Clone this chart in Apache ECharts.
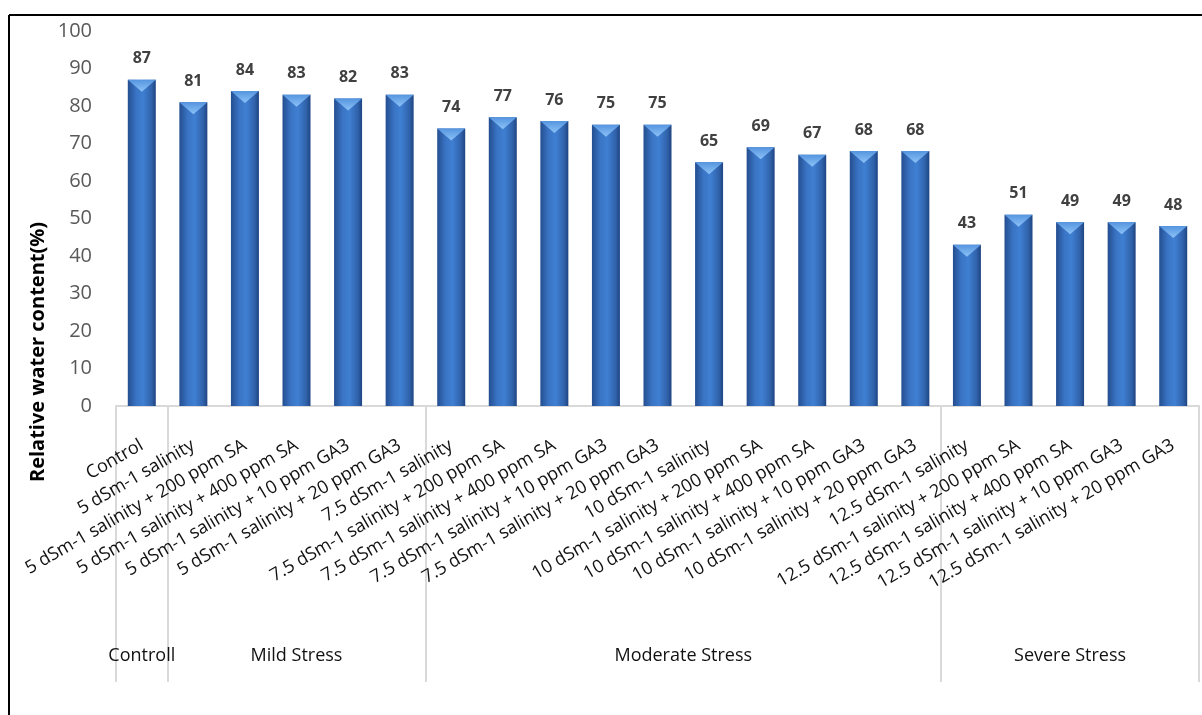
<!DOCTYPE html>
<html>
<head>
<meta charset="utf-8">
<script src="https://cdn.jsdelivr.net/npm/echarts@6/dist/echarts.min.js"></script>
<style>
html,body{margin:0;padding:0;background:#fff;}
#chart{width:1202px;height:715px;}
</style>
</head>
<body>
<div id="chart"></div>
<script>
// ---- data ----
var categories = [
  "Control",
  "5 dSm-1 salinity",
  "5 dSm-1 salinity + 200 ppm SA",
  "5 dSm-1 salinity + 400 ppm SA",
  "5 dSm-1 salinity + 10 ppm GA3",
  "5 dSm-1 salinity + 20 ppm GA3",
  "7.5 dSm-1 salinity",
  "7.5 dSm-1 salinity + 200 ppm SA",
  "7.5 dSm-1 salinity + 400 ppm SA",
  "7.5 dSm-1 salinity + 10 ppm GA3",
  "7.5 dSm-1 salinity + 20 ppm GA3",
  "10 dSm-1 salinity",
  "10 dSm-1 salinity + 200 ppm SA",
  "10 dSm-1 salinity + 400 ppm SA",
  "10 dSm-1 salinity + 10 ppm GA3",
  "10 dSm-1 salinity + 20 ppm GA3",
  "12.5 dSm-1 salinity",
  "12.5 dSm-1 salinity + 200 ppm SA",
  "12.5 dSm-1 salinity + 400 ppm SA",
  "12.5 dSm-1 salinity + 10 ppm GA3",
  "12.5 dSm-1 salinity + 20 ppm GA3"
];
var values = [87, 81, 84, 83, 82, 83, 74, 77, 76, 75, 75, 65, 69, 67, 68, 68, 43, 51, 49, 49, 48];
var groupNames = ["Controll", "Mild Stress", "Moderate Stress", "Severe Stress"];
var groupSizes = [1, 5, 10, 5];
var yTicks = [0, 10, 20, 30, 40, 50, 60, 70, 80, 90, 100];
var yTitle = "Relative water content(%)";

// group boundaries and centres (in category units)
var boundaries = [0];
var centres = [];
(function(){
  var acc = 0;
  for (var i = 0; i < groupSizes.length; i++) {
    centres.push(acc + groupSizes[i] / 2);
    acc += groupSizes[i];
    boundaries.push(acc);
  }
})();

var FONT = "'Open Sans', 'DejaVu Sans', sans-serif";
var chart = echarts.init(document.getElementById('chart'), null, {renderer: 'canvas'});

var barColor = new echarts.graphic.LinearGradient(0, 0, 1, 0, [
  {offset: 0, color: '#244e90'},
  {offset: 0.3, color: '#3a74c4'},
  {offset: 0.55, color: '#3f7fd2'},
  {offset: 0.85, color: '#3062aa'},
  {offset: 1, color: '#1f4482'}
]);
var capColor = new echarts.graphic.LinearGradient(0, 0, 0, 1, [
  {offset: 0, color: '#8cc2f7'},
  {offset: 1, color: '#5595df'}
]);

chart.setOption({
  animation: false,
  backgroundColor: '#ffffff',
  grid: {left: 116, top: 31, width: 1088, height: 375, containLabel: false},
  xAxis: [{
    type: 'category',
    data: categories,
    boundaryGap: true,
    axisLine: {show: true, lineStyle: {color: '#d9d9d9', width: 2}},
    axisTick: {
      show: true,
      length: 276,
      interval: function (index) { return boundaries.indexOf(index) >= 0 && index < categories.length; },
      lineStyle: {color: '#d9d9d9', width: 2}
    },
    axisLabel: {
      interval: 0,
      rotate: 30,
      margin: 38,
      color: '#111',
      fontFamily: FONT,
      fontSize: 18
    },
    splitLine: {show: false}
  }, {
    type: 'value',
    position: 'bottom',
    min: 0,
    max: categories.length,
    interval: 0.5,
    axisLine: {show: false},
    axisTick: {show: false},
    splitLine: {show: false},
    axisLabel: {
      margin: 241,
      color: '#111',
      fontFamily: FONT,
      fontSize: 18,
      showMinLabel: true,
      showMaxLabel: true,
      formatter: function (v) {
        for (var i = 0; i < centres.length; i++) {
          if (Math.abs(centres[i] - v) < 1e-6) return groupNames[i];
        }
        return '';
      }
    }
  }],
  yAxis: {
    type: 'value',
    min: yTicks[0],
    max: yTicks[yTicks.length - 1],
    interval: yTicks[1] - yTicks[0],
    axisLine: {show: false},
    axisTick: {show: false},
    splitLine: {show: false},
    axisLabel: {
      margin: 24,
      color: '#595959',
      fontFamily: FONT,
      fontSize: 20
    }
  },
  series: [{
    type: 'bar',
    xAxisIndex: 0,
    data: values,
    barWidth: 28,
    itemStyle: {color: barColor},
    label: {
      show: true,
      position: 'top',
      distance: 13,
      color: '#404040',
      fontFamily: FONT,
      fontWeight: 'bold',
      fontSize: 16
    },
    emphasis: {disabled: true}
  }, {
    type: 'scatter',
    xAxisIndex: 0,
    data: values,
    symbol: 'triangle',
    symbolRotate: 180,
    symbolSize: [28, 12],
    symbolOffset: [0, 6],
    itemStyle: {color: capColor, opacity: 1},
    z: 3,
    emphasis: {disabled: true},
    silent: true
  }],
  graphic: [{
    type: 'text',
    x: 38,
    y: 352,
    rotation: Math.PI / 2,
    style: {
      text: yTitle,
      fill: '#000',
      font: 'bold 20px ' + FONT,
      textAlign: 'center',
      textVerticalAlign: 'middle'
    }
  }, {
    type: 'line',
    shape: {x1: 9, y1: 15, x2: 1202, y2: 15},
    style: {stroke: '#000', lineWidth: 2}
  }, {
    type: 'line',
    shape: {x1: 9, y1: 15, x2: 9, y2: 715},
    style: {stroke: '#000', lineWidth: 2}
  }]
});
</script>
</body>
</html>
